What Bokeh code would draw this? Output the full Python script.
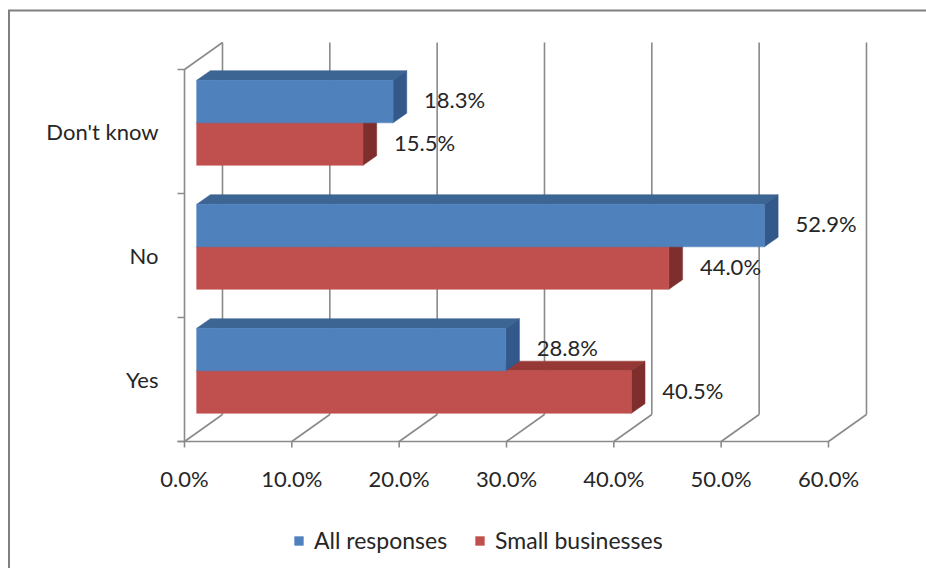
from bokeh.plotting import figure
from bokeh.models import Range1d, Legend, LegendItem, ColumnDataSource
from bokeh.core.properties import value
from bokeh.embed import file_html
from bokeh.resources import INLINE

# ---------------- data ----------------
categories = ["Yes", "No", "Don't know"]
all_responses = [28.8, 52.9, 18.3]
small_businesses = [40.5, 44.0, 15.5]
series_names = ["All responses", "Small businesses"]
x_ticks = [0, 10, 20, 30, 40, 50, 60]
x_tick_labels = ["0.0%", "10.0%", "20.0%", "30.0%", "40.0%", "50.0%", "60.0%"]
value_labels_all = ["28.8%", "52.9%", "18.3%"]
value_labels_small = ["40.5%", "44.0%", "15.5%"]

# ---------------- geometry / style ----------------
W, H = 926, 568
X0_PX = 184.0          # canvas px of front 0%
PX_PER_PCT = 10.733
Y0_PX = 441.0          # canvas px of front floor
PX_PER_CAT = 124.0
DEPTH_DX_PX, DEPTH_DY_PX = 38.0, 27.0
D0, D1 = 0.32, 0.68    # bar depth (fraction of wall depth)
BAR_H = 42.5 / PX_PER_CAT

FONT = "Lato"
FS = "22px"
TXT = "#262626"
GRID = "#8a8a8a"

BLUE = ("#4F81BD", "#3D6593", "#33588A")
RED = ("#C0504D", "#963835", "#7E2F2D")

ddx = DEPTH_DX_PX / PX_PER_PCT
ddy = DEPTH_DY_PX / PX_PER_CAT
n = len(categories)
xmax = x_ticks[-1]

p = figure(width=W, height=H,
           x_range=Range1d(-X0_PX / PX_PER_PCT, (W - X0_PX) / PX_PER_PCT),
           y_range=Range1d(-(H - Y0_PX) / PX_PER_CAT, Y0_PX / PX_PER_CAT),
           x_axis_location=None, y_axis_location=None,
           toolbar_location=None, output_backend="svg",
           min_border=0, outline_line_color=None)
p.grid.visible = False
p.background_fill_color = "white"

# outer chart border (left and top edges visible)
px = 1.0 / PX_PER_PCT
py = 1.0 / PX_PER_CAT
xs0 = p.x_range.start
ys1 = p.y_range.end
p.segment(x0=[xs0 + 8.5 * px, xs0 + 7.5 * px], y0=[p.y_range.start, ys1 - 10 * py],
          x1=[xs0 + 8.5 * px, p.x_range.end], y1=[ys1 - 10 * py, ys1 - 10 * py],
          line_color="#808080", line_width=2)

# back wall verticals
p.segment(x0=[t + ddx for t in x_ticks], y0=[ddy] * len(x_ticks),
          x1=[t + ddx for t in x_ticks], y1=[n + ddy] * len(x_ticks),
          line_color=GRID, line_width=1.6)
# floor diagonals
p.segment(x0=x_ticks, y0=[0] * len(x_ticks),
          x1=[t + ddx for t in x_ticks], y1=[ddy] * len(x_ticks),
          line_color=GRID, line_width=1.6)
# left wall: front vertical + top diagonal
p.segment(x0=[0, 0], y0=[0, n], x1=[0, ddx], y1=[n, n + ddy],
          line_color=GRID, line_width=1.6)
# front baseline
p.segment(x0=[-7 * px], y0=[0], x1=[xmax], y1=[0], line_color=GRID, line_width=1.6)
# left ticks at category boundaries
bounds = list(range(n + 1))
p.segment(x0=[-7 * px] * len(bounds), y0=bounds, x1=[0] * len(bounds), y1=bounds,
          line_color=GRID, line_width=1.6)
# bottom ticks
p.segment(x0=x_ticks, y0=[0] * len(x_ticks), x1=x_ticks, y1=[-6 * py] * len(x_ticks),
          line_color=GRID, line_width=1.6)


def boxes(vals, lo_off, hi_off, colors):
    fx0 = D0 * ddx
    sy = D0 * ddy
    kx = (D1 - D0) * ddx
    ky = (D1 - D0) * ddy
    left, right, bottom, top = [], [], [], []
    top_xs, top_ys, side_xs, side_ys = [], [], [], []
    for i, v in enumerate(vals):
        yb = i + 0.5 + lo_off + sy
        yt = i + 0.5 + hi_off + sy
        l, r = fx0, v + fx0
        left.append(l); right.append(r); bottom.append(yb); top.append(yt)
        top_xs.append([l, r, r + kx, l + kx])
        top_ys.append([yt, yt, yt + ky, yt + ky])
        side_xs.append([r, r + kx, r + kx, r])
        side_ys.append([yb, yb + ky, yt + ky, yt])
    p.patches(xs=top_xs, ys=top_ys, fill_color=colors[1], line_color=colors[1], line_width=0.5)
    p.patches(xs=side_xs, ys=side_ys, fill_color=colors[2], line_color=colors[2], line_width=0.5)
    front = p.quad(left=left, right=right, bottom=bottom, top=top,
                   fill_color=colors[0], line_color=colors[0], line_width=0.5)
    return front, right, bottom, top


red_front, red_r, red_b, red_t = boxes(small_businesses, -BAR_H, 0.0, RED)
blue_front, blue_r, blue_b, blue_t = boxes(all_responses, 0.0, BAR_H, BLUE)

# value labels
lab_src = ColumnDataSource(dict(
    x=blue_r + red_r,
    y=[(b + t) / 2 for b, t in zip(blue_b, blue_t)] + [(b + t) / 2 for b, t in zip(red_b, red_t)],
    text=value_labels_all + value_labels_small))
p.text(x="x", y="y", text="text", source=lab_src, x_offset=31, y_offset=-2,
       text_align="left", text_baseline="middle", text_font=value(FONT),
       text_font_size=FS, text_color=TXT)

# category labels
p.text(x=[0] * n, y=[i + 0.5 for i in range(n)], text=categories, x_offset=-26,
       text_align="right", text_baseline="middle", text_font=value(FONT),
       text_font_size=FS, text_color=TXT)

# x tick labels
p.text(x=x_ticks, y=[0] * len(x_ticks), text=x_tick_labels, y_offset=37,
       text_align="center", text_baseline="middle", text_font=value(FONT),
       text_font_size=FS, text_color=TXT)

legend = Legend(items=[LegendItem(label=series_names[0], renderers=[blue_front]),
                       LegendItem(label=series_names[1], renderers=[red_front])],
                orientation="horizontal", location=(293, 14),
                glyph_width=11, glyph_height=11, label_standoff=10, spacing=27,
                padding=0, margin=0, border_line_color=None,
                background_fill_alpha=0, label_text_font=FONT,
                label_text_font_size="23px", label_text_color=TXT)
p.add_layout(legend)

open("out.html", "w").write(file_html(p, INLINE))
